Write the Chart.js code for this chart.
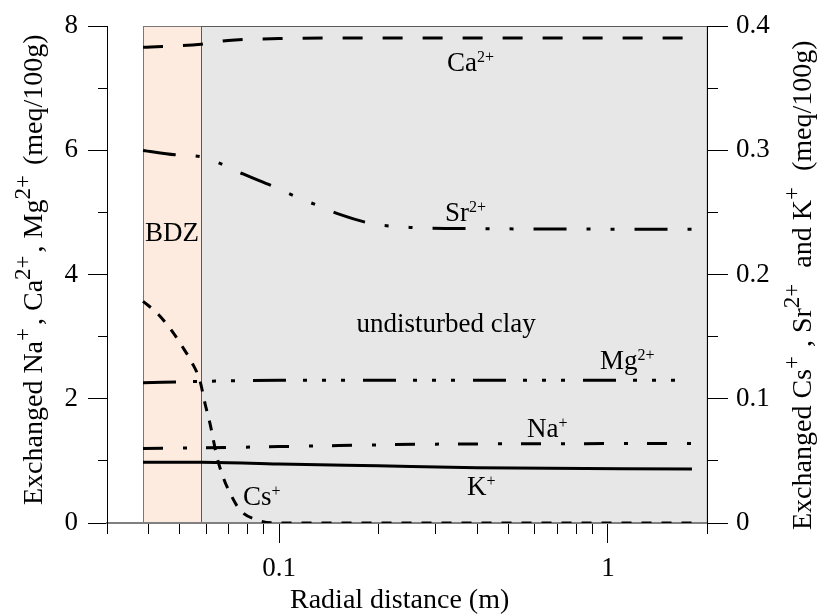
<!DOCTYPE html>
<html>
<head>
<meta charset="utf-8">
<script src="https://cdn.jsdelivr.net/npm/chart.js@4.4.1/dist/chart.umd.min.js"></script>
<style>
  html, body { margin: 0; padding: 0; background: #fff; }
  #wrap { width: 832px; height: 614px; }
</style>
</head>
<body>
<div id="wrap"><canvas id="ionChart" width="832" height="614"></canvas></div>
<script>
// radial distance (m) / exchanged cations (meq/100g)
// left axis: Na+, Ca2+, Mg2+
const caX = [0.0386, 0.058, 0.07, 0.1, 0.2, 1.8];
const caY = [7.66, 7.71, 7.77, 7.80, 7.81, 7.81];
const mgX = [0.0386, 0.058, 0.1, 1.8];
const mgY = [2.26, 2.28, 2.30, 2.30];
const naX = [0.0386, 0.058, 0.1, 0.3, 1.8];
const naY = [1.20, 1.21, 1.23, 1.27, 1.28];
// right axis: Cs+, Sr2+, K+
const srX = [0.0386, 0.0483, 0.0575, 0.0662, 0.0778, 0.096, 0.112, 0.1315, 0.153, 0.192, 0.25, 0.4, 1.8];
const srY = [0.300, 0.2965, 0.295, 0.2895, 0.281, 0.271, 0.263, 0.2555, 0.2485, 0.241, 0.238, 0.237, 0.2365];
const csX = [0.0386, 0.0426, 0.0473, 0.0507, 0.0544, 0.0575, 0.0596, 0.0617, 0.0648, 0.0676, 0.071, 0.0761, 0.0857, 0.0986, 1.8];
const csY = [0.1785, 0.169, 0.1545, 0.1425, 0.129, 0.1145, 0.096, 0.080, 0.053, 0.037, 0.024, 0.0105, 0.0025, 0, 0];
const kX = [0.0386, 0.058, 0.1, 0.2, 0.4, 1.8];
const kY = [0.049, 0.049, 0.0475, 0.046, 0.0445, 0.0435];

// axes
const xTicks = [0.03, 0.04, 0.05, 0.06, 0.07, 0.08, 0.09, 0.1, 0.2, 0.3, 0.4, 0.5, 0.6, 0.7, 0.8, 0.9, 1, 2];
const xMajor = [0.1, 1];
const zoneEdges = [0.0386, 0.058, 2];
const zoneNames = ["BDZ", "undisturbed clay"];

const FONT = '"Liberation Serif", "Times New Roman", serif';

function pts(xs, ys) {
  return xs.map((x, i) => ({ x: x, y: ys[i] }));
}

function isMajorX(v) {
  return xMajor.some(m => Math.abs(m - v) < 1e-9);
}

// text with superscripts: parts = [[text, sup], ...]
function drawRich(ctx, parts, x, y, opt) {
  const base = opt.size, sup = opt.supSize, rise = opt.rise, gap = opt.gap || 0;
  let w = 0;
  parts.forEach(p => {
    ctx.font = (p[1] ? sup : base) + "px " + FONT;
    w += ctx.measureText(p[0]).width + (p[1] ? gap : 0);
  });
  let cx = x;
  if (opt.align === "center") cx = x - w / 2;
  ctx.textAlign = "left";
  ctx.textBaseline = "alphabetic";
  ctx.fillStyle = "#000";
  parts.forEach(p => {
    ctx.font = (p[1] ? sup : base) + "px " + FONT;
    ctx.fillText(p[0], cx, p[1] ? y - rise : y);
    cx += ctx.measureText(p[0]).width + (p[1] ? gap : 0);
  });
}

const zonePlugin = {
  id: "zones",
  beforeDraw(chart) {
    const ctx = chart.ctx;
    const x = chart.scales.x, y = chart.scales.y;
    const top = y.getPixelForValue(8), bottom = y.getPixelForValue(0);
    const fills = ["#fdebdf", "#e7e7e7"];
    const strokes = ["#777777", "#5a5a5a"];
    ctx.save();
    for (let i = 0; i < 2; i++) {
      const l = x.getPixelForValue(zoneEdges[i]);
      const r = x.getPixelForValue(zoneEdges[i + 1]);
      ctx.fillStyle = fills[i];
      ctx.fillRect(l, top, r - l, bottom - top);
      ctx.strokeStyle = strokes[i];
      ctx.lineWidth = 1;
      ctx.strokeRect(Math.round(l) + 0.5, Math.round(top) + 0.5, r - l, bottom - top);
    }
    ctx.restore();
  }
};

const curveLabels = [
  { parts: [["Ca", 0], ["2+", 1]], x: 0.324, y: 7.28 },
  { parts: [["Sr", 0], ["2+", 1]], x: 0.3196, y: 4.86 },
  { parts: [["Mg", 0], ["2+", 1]], x: 0.946, y: 2.48 },
  { parts: [["Na", 0], ["+", 1]], x: 0.567, y: 1.38 },
  { parts: [["K", 0], ["+", 1]], x: 0.3727, y: 0.45 },
  { parts: [["Cs", 0], ["+", 1]], x: 0.0777, y: 0.29 }
];
const zoneLabels = [
  { text: zoneNames[0], x: 0.0473, y: 4.54 },
  { text: zoneNames[1], x: 0.322, y: 3.08 }
];

const labelPlugin = {
  id: "labels",
  afterDraw(chart) {
    const ctx = chart.ctx;
    const x = chart.scales.x, y = chart.scales.y;
    ctx.save();
    curveLabels.forEach(l => {
      drawRich(ctx, l.parts, x.getPixelForValue(l.x), y.getPixelForValue(l.y),
        { size: 27, supSize: 16, rise: 9, align: "left" });
    });
    zoneLabels.forEach(l => {
      drawRich(ctx, [[l.text, 0]], x.getPixelForValue(l.x), y.getPixelForValue(l.y),
        { size: 27, supSize: 16, rise: 9, align: "center" });
    });

    // axis titles
    drawRich(ctx, [["Radial distance (m)", 0]], 290, 608, { size: 28, supSize: 23, rise: 12, align: "left" });

    ctx.save();
    ctx.translate(42, 505);
    ctx.rotate(-Math.PI / 2);
    drawRich(ctx, [["Exchanged Na", 0], ["+", 1], [", Ca", 0], ["2+", 1], [", Mg", 0], ["2+", 1], [" (meq/100g)", 0]], 0, 0,
      { size: 28, supSize: 23, rise: 12, gap: 3, align: "left" });
    ctx.restore();

    ctx.save();
    ctx.translate(811, 530);
    ctx.rotate(-Math.PI / 2);
    drawRich(ctx, [["Exchanged Cs", 0], ["+", 1], [", Sr", 0], ["2+", 1], [" and K", 0], ["+", 1], [" (meq/100g)", 0]], 0, 0,
      { size: 28, supSize: 23, rise: 12, gap: 9, align: "left" });
    ctx.restore();
    ctx.restore();
  }
};

function lineSet(xs, ys, axis, dash) {
  return {
    data: pts(xs, ys),
    yAxisID: axis,
    borderColor: "#000",
    borderWidth: 3,
    borderDash: dash,
    pointRadius: 0,
    cubicInterpolationMode: "monotone",
    fill: false
  };
}

new Chart(document.getElementById("ionChart"), {
  type: "line",
  data: {
    datasets: [
      lineSet(caX, caY, "y", [20, 20]),
      lineSet(srX, srY, "y2", [33, 20, 4, 20, 4, 20]),
      lineSet(mgX, mgY, "y", [33, 17, 4, 15, 4, 15, 4, 18]),
      lineSet(naX, naY, "y", [20, 20, 4, 19]),
      lineSet(kX, kY, "y2", []),
      lineSet(csX, csY, "y2", [10, 10])
    ]
  },
  plugins: [zonePlugin, labelPlugin],
  options: {
    responsive: false,
    animation: false,
    layout: { padding: { top: 24, left: 0, right: 0, bottom: 0 } },
    plugins: { legend: { display: false }, tooltip: { enabled: false } },
    scales: {
      x: {
        type: "logarithmic",
        position: "bottom",
        min: 0.03,
        max: 2,
        afterBuildTicks: s => { s.ticks = xTicks.map(v => ({ value: v })); },
        afterFit: s => { s.height = 91; },
        ticks: {
          autoSkip: false,
          maxRotation: 0,
          padding: 10,
          color: "#000",
          font: { family: FONT, size: 27 },
          callback: v => isMajorX(v) ? String(v) : ""
        },
        grid: {
          drawOnChartArea: false,
          tickLength: 20,
          tickColor: "#000",
          tickWidth: 1,
          tickBorderDash: c => isMajorX(c.tick.value) ? [] : [10, 100]
        },
        border: { color: "#808080", width: 2 }
      },
      y: {
        position: "left",
        min: 0,
        max: 8,
        afterFit: s => { s.width = 107; },
        ticks: {
          stepSize: 1,
          padding: 10,
          color: "#000",
          font: { family: FONT, size: 27 },
          callback: v => v % 2 === 0 ? String(v) : ""
        },
        grid: {
          drawOnChartArea: false,
          tickLength: 19,
          tickColor: "#000",
          tickWidth: 1,
          tickBorderDash: c => c.tick.value % 2 === 0 ? [] : [0, 10, 9, 100]
        },
        border: { color: "#000", width: 1 }
      },
      y2: {
        position: "right",
        min: 0,
        max: 0.4,
        afterFit: s => { s.width = 125; },
        ticks: {
          stepSize: 0.05,
          padding: 8,
          color: "#000",
          font: { family: FONT, size: 27 },
          callback: v => Math.round(v * 100) % 10 === 0 ? String(Math.round(v * 10) / 10) : ""
        },
        grid: {
          drawOnChartArea: false,
          tickLength: 21,
          tickColor: "#000",
          tickWidth: 1,
          tickBorderDash: c => Math.round(c.tick.value * 100) % 10 === 0 ? [] : [10, 100]
        },
        border: { color: "#000", width: 1 }
      }
    }
  }
});
</script>
</body>
</html>
